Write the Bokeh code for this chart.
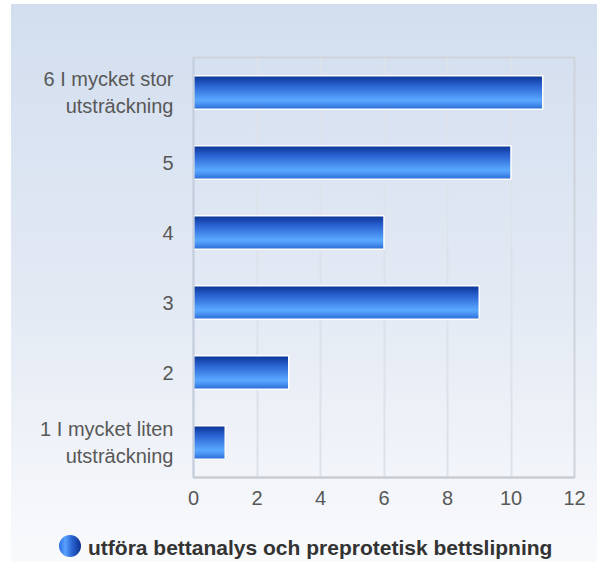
from bokeh.plotting import figure
from bokeh.models import Range1d, FixedTicker, Div
from bokeh.layouts import column
from bokeh.embed import file_html
from bokeh.resources import INLINE

# ---- data ----
categories = ["1 I mycket liten\nutsträckning", "2", "3", "4", "5",
              "6 I mycket stor\nutsträckning"]
values = [1, 3, 9, 6, 10, 11]
x_ticks = [0, 2, 4, 6, 8, 10, 12]
series_name = "utföra bettanalys och preprotetisk bettslipning"

positions = [i + 1 for i in range(len(categories))]

W, H, LEG_H = 597, 530, 32
p = figure(width=W, height=H, output_backend="svg", toolbar_location=None,
           x_range=Range1d(0, 12), y_range=Range1d(0.5, 6.5),
           min_border_left=193, min_border_right=23, min_border_top=57,
           min_border_bottom=53, margin=0)

p.border_fill_color = None
p.background_fill_color = None
p.outline_line_color = "#cfd4dc"
p.outline_line_width = 2


def lerp(c1, c2, t):
    return "#%02x%02x%02x" % tuple(int(round(a + (b - a) * t)) for a, b in zip(c1, c2))


stops = [(0.0, (0x0d, 0x34, 0x95)), (0.3, (0x2a, 0x63, 0xd2)),
         (0.72, (0x5a, 0xa8, 0xff)), (0.84, (0x4a, 0x94, 0xf2)),
         (1.0, (0x2a, 0x6a, 0xd4))]


def grad(t):
    for (t0, c0), (t1, c1) in zip(stops[:-1], stops[1:]):
        if t <= t1:
            return lerp(c0, c1, (t - t0) / (t1 - t0))
    return lerp(stops[-1][1], stops[-1][1], 0)


# bars: layered so that each layer runs from depth d down to the bar bottom
bar_h = 0.48
N = 34
for k in range(N):
    d = k / N
    frac = 1 - d
    ys = [pp - bar_h / 2 + frac * bar_h / 2 for pp in positions]
    p.hbar(y=ys, left=0, right=values, height=frac * bar_h,
           fill_color=grad(d + 0.5 / N), line_color=None)
p.hbar(y=positions, left=0, right=values, height=bar_h,
       fill_color=None, line_color="white", line_width=1.5)

# axes
p.xaxis.ticker = FixedTicker(ticks=x_ticks)
p.yaxis.ticker = FixedTicker(ticks=positions)
p.yaxis.major_label_overrides = {pp: c for pp, c in zip(positions, categories)}
for ax in (p.xaxis[0], p.yaxis[0]):
    ax.major_tick_line_color = None
    ax.minor_tick_line_color = None
    ax.major_label_text_font = "Liberation Sans"
    ax.major_label_text_color = "#585858"
    ax.major_label_text_font_size = "20px"
p.xaxis.major_label_standoff = 7
p.yaxis.major_label_standoff = 14
p.xaxis.axis_line_color = "#c9cbd0"
p.xaxis.axis_line_width = 2
p.yaxis.axis_line_color = "#c5cfdf"
p.yaxis.axis_line_width = 2

p.xgrid.grid_line_color = "#dde2ea"
p.xgrid.grid_line_width = 2
p.ygrid.grid_line_color = None

# legend (HTML row below the plot)
legend_html = (
    '<div style="position:relative;width:597px;height:32px;'
    "font-family:'Liberation Sans',Arial,sans-serif;font-weight:bold;"
    'font-size:21px;color:#333333;">'
    '<span style="position:absolute;left:59px;top:5px;width:22px;height:22px;'
    'border-radius:50%;background:linear-gradient(to right,#2a6ee0,#5aa2ff 28%,'
    '#2c66d4 58%,#0b2f8f);"></span>'
    '<span style="position:absolute;left:88px;top:6px;line-height:24px;'
    'white-space:nowrap;">' + series_name + '</span></div>'
)
leg = Div(text=legend_html, width=W, height=LEG_H, margin=0)

layout = column(p, leg, width=W, height=H + LEG_H, spacing=0)
layout.styles = {
    "background-color": "#ffffff",
    "background-image": "linear-gradient(to bottom, #d2deef, #e4eaf4 55%, #f9fafc)",
    "background-repeat": "no-repeat",
    "background-position": "11px 4px",
    "background-size": "586px 558px",
}

open("out.html", "w").write(file_html(layout, INLINE))
